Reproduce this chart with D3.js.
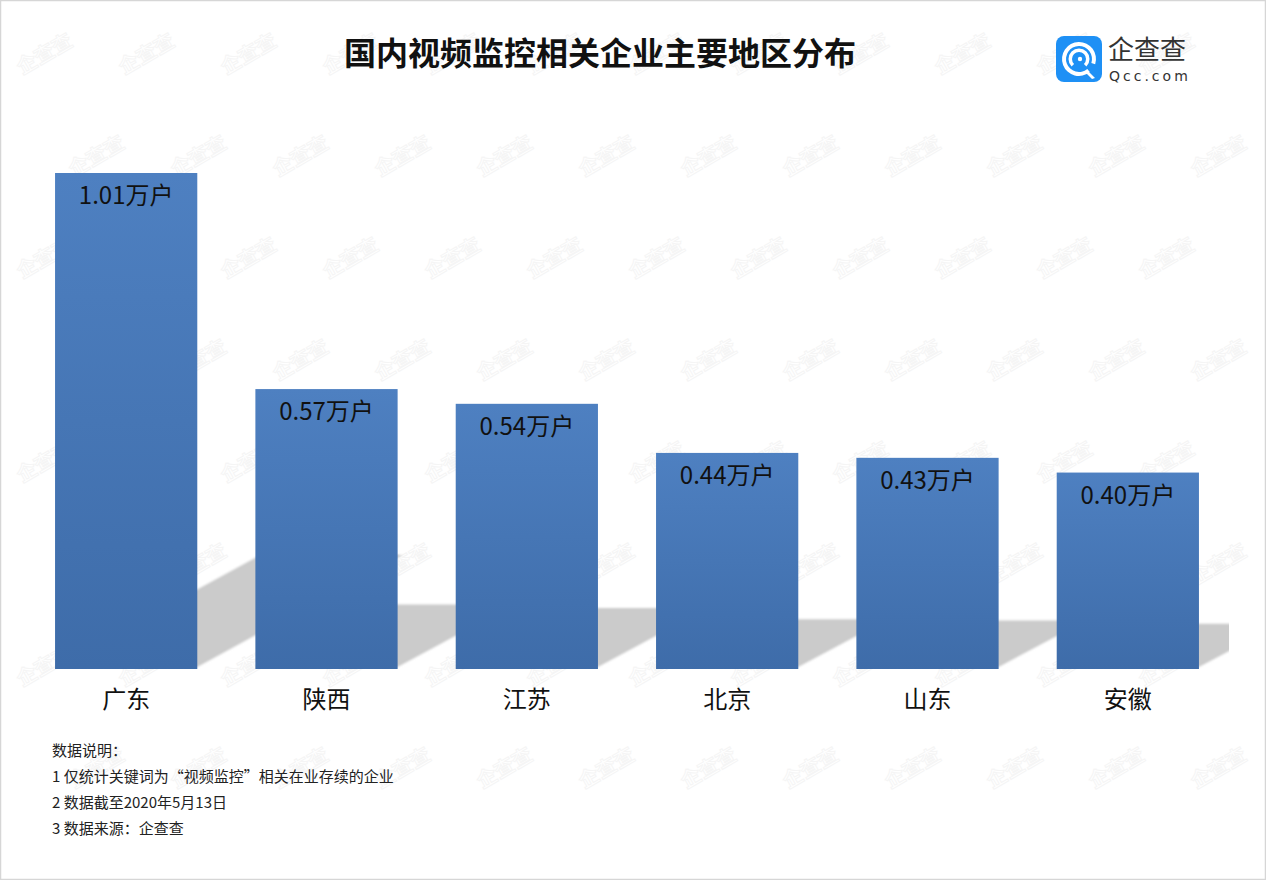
<!DOCTYPE html>
<html><head><meta charset="utf-8">
<script src="https://cdn.jsdelivr.net/npm/d3@7"></script>
<style>
html,body{margin:0;padding:0;background:#fff;}
svg{display:block;font-family:"Noto Sans CJK SC","Noto Sans",sans-serif;}
</style></head>
<body>
<script>
const categories = ["广东","陕西","江苏","北京","山东","安徽"];
const values = [1.01, 0.57, 0.54, 0.44, 0.43, 0.40];
const valueLabels = ["1.01万户","0.57万户","0.54万户","0.44万户","0.43万户","0.40万户"];
const title = "国内视频监控相关企业主要地区分布";
const notes = ["数据说明：","1 仅统计关键词为“视频监控”相关在业存续的企业","2 数据截至2020年5月13日","3 数据来源：企查查"];

const W = 1266, H = 880;
const svg = d3.select("body").append("svg").attr("width", W).attr("height", H);
const defs = svg.append("defs");

const grad = defs.append("linearGradient").attr("id","barGrad").attr("x1",0).attr("y1",0).attr("x2",0).attr("y2",1);
grad.append("stop").attr("offset","0%").attr("stop-color","#4e80c1");
grad.append("stop").attr("offset","100%").attr("stop-color","#3e6ca9");

const blur = defs.append("filter").attr("id","shBlur").attr("x","-10%").attr("y","-10%").attr("width","120%").attr("height","120%");
blur.append("feGaussianBlur").attr("stdDeviation",1.2);

defs.append("clipPath").attr("id","plotClip").append("rect").attr("x",20).attr("y",100).attr("width",1209).attr("height",570);

// background + border
svg.append("rect").attr("x",0.5).attr("y",0.5).attr("width",W-1).attr("height",H-1).attr("fill","#fff").attr("stroke","#d6d6d6").attr("stroke-width",1.5);

// watermarks (kept inside the picture)
const wm = svg.append("g").attr("class","watermarks");
for (let r = 0; r < 9; r++) {
  const y = 60 + 102*r;
  if (y > H - 25) continue;
  for (let x = 150 - 50*(r%2) - 102; x < W; x += 102) {
    if (x < 35 || x > W - 35) continue;
    wm.append("text").attr("transform",`translate(${x},${y}) rotate(-30)`)
      .attr("text-anchor","middle").attr("font-size",20).attr("font-weight","bold")
      .attr("fill","none").attr("stroke","#f5f5f5").attr("stroke-width",1)
      .text("企查查");
  }
}

const x = d3.scaleBand().domain(categories).range([26, 1228]).paddingInner(0.29).paddingOuter(0.145);
const y = d3.scaleLinear().domain([0, 1.01]).range([669, 173]);
const base = y(0);

// shadows
const k = 1.8, sy = 0.23;
svg.append("g").attr("clip-path","url(#plotClip)").selectAll("path").data(values).join("path")
  .attr("filter","url(#shBlur)")
  .attr("fill","#cbcbcb")
  .attr("d",(d,i)=>{
    const x0 = x(categories[i]), x1 = x0 + x.bandwidth();
    const hh = (base - y(d))*sy;
    return `M${x0},${base-2}L${x1},${base-2}L${x1+k*hh},${base-hh}L${x0+k*hh},${base-hh}Z`;
  });

// bars
svg.append("g").selectAll("rect").data(values).join("rect")
  .attr("x",(d,i)=>x(categories[i])).attr("y",d=>y(d))
  .attr("width",x.bandwidth()).attr("height",d=>base-y(d))
  .attr("fill","url(#barGrad)");

// value labels
svg.append("g").selectAll("text").data(values).join("text")
  .attr("x",(d,i)=>x(categories[i])+x.bandwidth()/2)
  .attr("y",d=>y(d)+31)
  .attr("text-anchor","middle").attr("font-size",24).attr("fill","#111")
  .text((d,i)=>valueLabels[i]);

// x axis labels
const xAxis = d3.axisBottom(x).tickSize(0).tickPadding(22);
const gx = svg.append("g").attr("transform",`translate(0,${base})`).call(xAxis);
gx.select(".domain").remove();
gx.selectAll("text").attr("font-size",24).attr("fill","#111").attr("font-family","'Noto Sans CJK SC',sans-serif");

// title
svg.append("text").attr("x",600).attr("y",65).attr("text-anchor","middle")
  .attr("font-size",32).attr("font-weight","bold").attr("fill","#111").text(title);

// logo
const logo = svg.append("g").attr("transform","translate(1056,36)");
logo.append("rect").attr("width",46).attr("height",46).attr("rx",8).attr("fill","#1e90f5");
const c = logo.append("g").attr("transform","translate(23,23)");
const arcG = d3.arc();
c.append("path").attr("d",arcG({innerRadius:13,outerRadius:17,startAngle:Math.PI*0.78,endAngle:Math.PI*2.6})).attr("fill","#fff");
c.append("path").attr("d",arcG({innerRadius:7,outerRadius:10.5,startAngle:Math.PI*1.25,endAngle:Math.PI*2.75})).attr("fill","#fff");
c.append("circle").attr("r",2.2).attr("cx",1).attr("fill","#fff");
c.append("path").attr("d","M9,12L16,19L13,20L7,14Z").attr("fill","#fff");
logo.append("text").attr("x",52).attr("y",23).attr("font-size",26).attr("fill","#333").text("企查查");
logo.append("text").attr("x",53).attr("y",45).attr("font-size",14).attr("fill","#333").attr("letter-spacing",3)
  .attr("font-family","'DejaVu Sans',sans-serif").text("Qcc.com");

// notes
svg.append("g").selectAll("text").data(notes).join("text")
  .attr("x",52).attr("y",(d,i)=>756 + i*26)
  .attr("font-size",15).attr("fill","#222").text(d=>d);
</script>
</body></html>
